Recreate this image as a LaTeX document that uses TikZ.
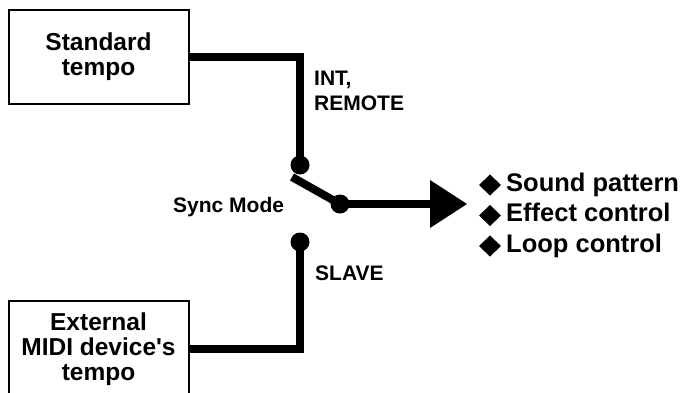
\documentclass[tikz,border=0pt]{standalone}
\usepackage{fontspec}
\setmainfont{Liberation Sans}[Ligatures=TeXOff]
\usetikzlibrary{calc}
\begin{document}
\begin{tikzpicture}[x=1pt,y=-1pt,
  box/.style={draw,line width=2pt,minimum width=180pt,align=center,font=\fontsize{24.5}{25}\selectfont\bfseries,inner sep=0pt},
  wire/.style={line width=8pt,line join=miter},
  dot/.style={circle,fill,inner sep=0pt,minimum size=19pt},
  lbl/.style={font=\fontsize{21}{25}\selectfont\bfseries,align=left,inner sep=0pt},
  item/.style={font=\fontsize{25.5}{30.5}\selectfont\bfseries,align=left,inner sep=0pt}]
\useasboundingbox (0,0) rectangle (681,392);
\clip (0,0) rectangle (681,392);
\node[box,minimum height=94pt] (std) at (98.5,57) {Standard\\tempo};
\node[box,minimum height=96pt] (ext) at (98.5,349) {External\\MIDI device's\\tempo};
\node[dot] (up) at (300,165) {};
\node[dot] (sl) at (300,242) {};
\node[dot] (com) at (340,204) {};
\coordinate (piv) at (292,177);
\coordinate (arr) at (430,204);
\coordinate (tip) at (467,204);
\draw[wire] (std.east) -| (up.center);
\draw[wire] (ext.east) -| (sl.center);
\draw[wire] (piv) -- (com.center);
\draw[wire] (com.center) -- (arr);
\fill ($(arr)+(0,-24)$) -- (tip) -- ($(arr)+(0,24)$) -- cycle;
\node[lbl,anchor=base west] (int) at (314,110) {INT,\\REMOTE};
\node[lbl,anchor=base west] (sync) at (173,212) {Sync Mode};
\node[lbl,anchor=base west] (slave) at (315,280) {SLAVE};
\node[item,anchor=base west] (list) at (506,252) {Sound pattern\\Effect control\\Loop control};
\foreach \y in {185,215.5,246}
  \fill (479,\y) -- (490,\y-10.5) -- (501,\y) -- (490,\y+10.5) -- cycle;
\end{tikzpicture}
\end{document}
